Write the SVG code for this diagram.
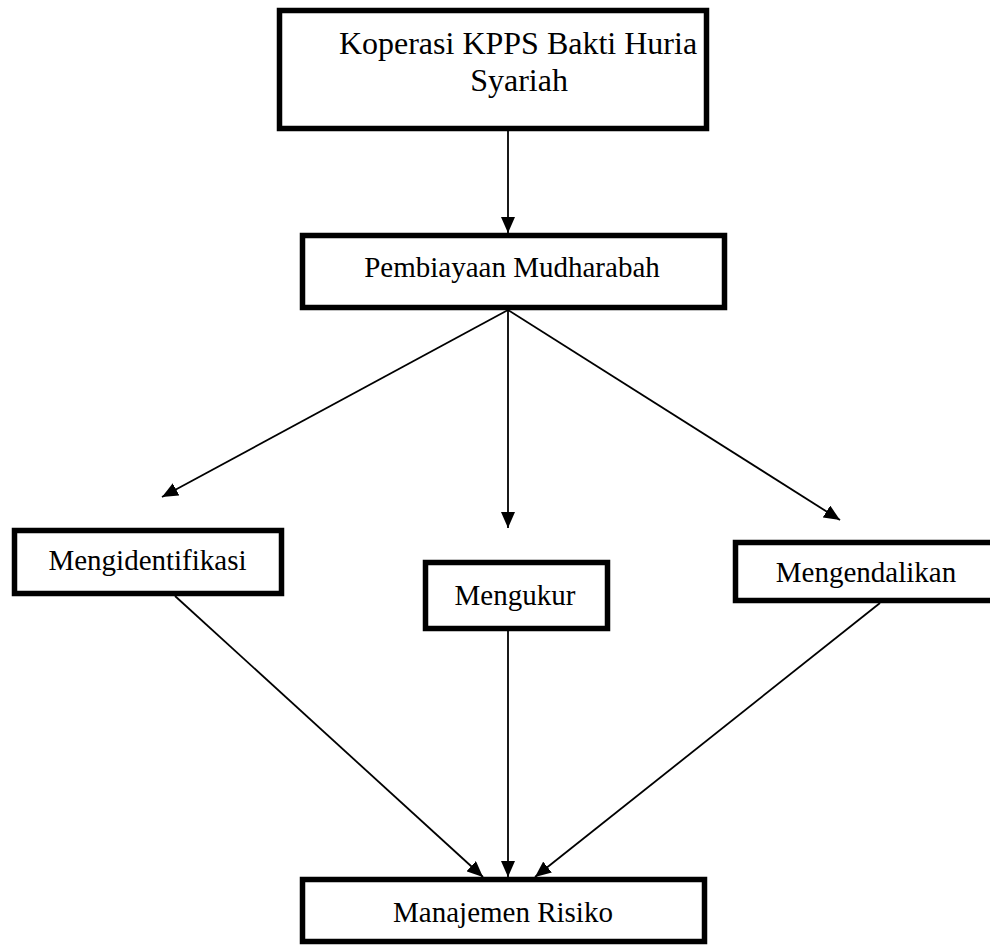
<svg xmlns="http://www.w3.org/2000/svg" width="990" height="945" viewBox="0 0 990 945">
<style>
.box{fill:#fff;stroke:#000;stroke-width:5.5}
.t{font-family:"Liberation Serif","Times New Roman",serif;font-size:29px;fill:#000;text-anchor:middle}
.big{font-size:32px}
.c{stroke:#000;stroke-width:1.8;fill:none;marker-end:url(#ah)}
</style>
<defs>
<marker id="ah" viewBox="0 0 16 14" refX="16" refY="7" markerWidth="16" markerHeight="14" markerUnits="userSpaceOnUse" orient="auto">
<path d="M0,0 L16,7 L0,14 z" fill="#000"/>
</marker>
</defs>
<rect width="990" height="945" fill="#fff"/>
<g id="connectors">
<line class="c" x1="508" y1="131" x2="508" y2="233"/>
<line class="c" x1="508" y1="310" x2="162" y2="497"/>
<line class="c" x1="508" y1="310" x2="508" y2="528"/>
<line class="c" x1="508" y1="310" x2="840" y2="520"/>
<line class="c" x1="175" y1="596" x2="483" y2="877"/>
<line class="c" x1="508" y1="631" x2="508" y2="877"/>
<line class="c" x1="880" y1="603" x2="535" y2="877"/>
</g>
<g id="koperasi">
<rect class="box" x="279.5" y="10.5" width="427" height="118"/>
<text class="t big" x="518" y="54">Koperasi KPPS Bakti Huria</text>
<text class="t big" x="519" y="91">Syariah</text>
</g>
<g id="pembiayaan">
<rect class="box" x="302.5" y="235.5" width="422" height="72"/>
<text class="t" x="512" y="277">Pembiayaan Mudharabah</text>
</g>
<g id="mengidentifikasi">
<rect class="box" x="14.5" y="530.5" width="267" height="63"/>
<text class="t" x="147.5" y="570">Mengidentifikasi</text>
</g>
<g id="mengukur">
<rect class="box" x="425.5" y="562.5" width="182" height="66"/>
<text class="t" x="515" y="605">Mengukur</text>
</g>
<g id="mengendalikan">
<rect class="box" x="735.5" y="542.5" width="262" height="58"/>
<text class="t" x="866" y="582">Mengendalikan</text>
</g>
<g id="manajemen">
<rect class="box" x="302.5" y="879.5" width="402" height="62"/>
<text class="t" x="503" y="922">Manajemen Risiko</text>
</g>
</svg>
